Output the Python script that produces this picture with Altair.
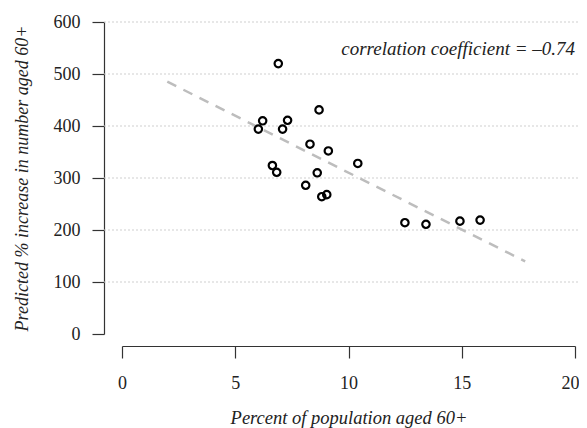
import altair as alt
import pandas as pd

# Percent of population aged 60+ (x) and predicted % increase in number aged 60+ (y)
pct_aged_60 = [6.90, 8.70, 6.21, 6.02, 7.31, 7.09, 8.30, 9.11, 10.41, 8.62,
               8.11, 8.82, 9.04, 6.64, 6.83, 12.49, 13.42, 14.92, 15.81]
pred_increase = [520, 431, 410, 394, 411, 394, 365, 352, 328, 310,
                 286, 264, 268, 324, 311, 214, 211, 217, 219]
grid_values = [100, 200, 300, 400, 500, 600]
x_ticks = [0, 5, 10, 15, 20]
y_ticks = [0, 100, 200, 300, 400, 500, 600]
annotation = ["correlation coefficient = \u20130.74"]

df = pd.DataFrame({"pct": pct_aged_60, "inc": pred_increase})
grid_df = pd.DataFrame({"g": grid_values})
ann_df = pd.DataFrame({"t": annotation})

FONT = "Liberation Serif"
AXIS_COLOR = "#333333"
W, H = 453, 312

xs = alt.Scale(domain=[0, 20], nice=False, zero=False)
ys = alt.Scale(domain=[0, 600], nice=False, zero=False)

x_axis = alt.Axis(
    title="Percent of population aged 60+", values=x_ticks, grid=False,
    offset=12, tickSize=12, labelPadding=16, titlePadding=16, labelFlush=False,
    labelAlign=alt.ExprRef(expr="datum.value == 20 ? 'right' : 'center'"),
    labelOffset=alt.ExprRef(expr="datum.value == 20 ? 4 : 0"),
    domainColor=AXIS_COLOR, tickColor=AXIS_COLOR, domainWidth=1.2, tickWidth=1.2,
    labelFont=FONT, labelFontSize=18, labelColor="#222222",
    titleFont=FONT, titleFontSize=18.5, titleFontStyle="italic",
    titleFontWeight="normal", titleColor="#222222",
)
y_axis = alt.Axis(
    title="Predicted % increase in number aged 60+", values=y_ticks, grid=False,
    offset=18, tickSize=12, labelPadding=12, titlePadding=22, labelFlush=False,
    domainColor=AXIS_COLOR, tickColor=AXIS_COLOR, domainWidth=1.2, tickWidth=1.2,
    labelFont=FONT, labelFontSize=18, labelColor="#222222",
    titleFont=FONT, titleFontSize=18, titleFontStyle="italic",
    titleFontWeight="normal", titleColor="#222222",
)

grid = alt.Chart(grid_df).mark_rule(
    color="#cfcfcf", strokeDash=[2, 2], strokeWidth=1
).encode(
    y=alt.Y("g:Q", scale=ys, axis=y_axis),
    x=alt.value(-18),
    x2=alt.value(W + 4),
)

reg = alt.Chart(df).transform_regression(
    "pct", "inc", extent=[2, 17.8]
).mark_line(
    color="#bdbdbd", strokeDash=[10, 8], strokeWidth=2.5
).encode(
    x=alt.X("pct:Q", scale=xs, axis=x_axis),
    y=alt.Y("inc:Q", scale=ys, axis=y_axis),
)

pts = alt.Chart(df).mark_point(
    shape="circle", filled=False, color="black", strokeWidth=2.2, size=55, opacity=1
).encode(
    x=alt.X("pct:Q", scale=xs, axis=x_axis),
    y=alt.Y("inc:Q", scale=ys, axis=y_axis),
)

ann = alt.Chart(ann_df).mark_text(
    align="right", baseline="alphabetic", font=FONT, fontStyle="italic",
    fontSize=19, color="#222222"
).encode(
    x=alt.value(W),
    y=alt.value(33),
    text="t:N",
)

chart = alt.layer(grid, reg, pts, ann).properties(
    width=W, height=H,
    autosize=alt.AutoSizeParams(type="none"),
    padding={"left": 114, "top": 14, "right": 4, "bottom": 100},
).configure(font=FONT).configure_axis(
    labelFont=FONT, titleFont=FONT
).configure_view(stroke=None)

chart.save("out.html", embed_options={"renderer": "svg", "actions": False})
